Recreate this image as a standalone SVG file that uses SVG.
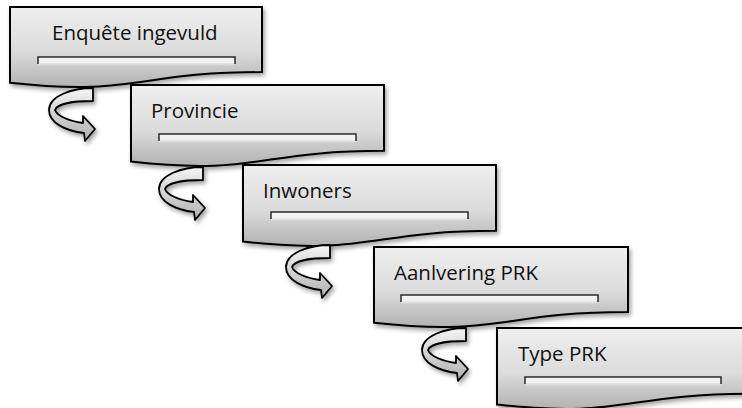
<svg xmlns="http://www.w3.org/2000/svg" width="742" height="408" viewBox="0 0 742 408">
<defs>
<linearGradient id="boxg" x1="0" y1="0" x2="0" y2="1">
<stop offset="0" stop-color="#efefef"/>
<stop offset="0.55" stop-color="#dcdcdc"/>
<stop offset="1" stop-color="#b2b2b2"/>
</linearGradient>
<linearGradient id="arrg" x1="0" y1="0" x2="0" y2="1">
<stop offset="0" stop-color="#f4f4f4"/>
<stop offset="1" stop-color="#b0b0b0"/>
</linearGradient>
<linearGradient id="barg" x1="0" y1="0" x2="0" y2="1">
<stop offset="0" stop-color="#f6f6f6"/>
<stop offset="0.6" stop-color="#f0f0f0"/>
<stop offset="1" stop-color="#f0f0f0" stop-opacity="0"/>
</linearGradient>
<filter id="sh" x="-10%" y="-10%" width="130%" height="140%">
<feDropShadow dx="2" dy="3" stdDeviation="2" flood-color="#000" flood-opacity="0.35"/>
</filter>
<path id="arrow" d="M93,88 C72,88 49,96 49,110 C49,123 66,131 84,133 L85,141 L95,129 L83,116 L83,123 C69,121 57,116 55,110 C57,104 72,101 93,101 Z"/>
</defs>
<style>
.box{fill:url(#boxg);stroke:#000;stroke-width:2;filter:url(#sh)}
.bar{fill:url(#barg)}
.barl{fill:none;stroke:#2a2a2a;stroke-width:1.5}
.lbl{font-family:"Open Sans","Noto Sans",sans-serif;font-size:20.5px;fill:#111}
.arr{fill:url(#arrg);stroke:#000;stroke-width:1.8;stroke-linejoin:round;filter:url(#sh)}
</style>
<g id="node1">
<path class="box" d="M10,7 H262 V72 C136,72 136,96.6 10,82.7 Z"/>
<rect class="bar" x="38" y="57" width="197" height="9"/>
<path class="barl" d="M38,64 V57 H235 V64"/>
<text class="lbl" x="52" y="40">Enquête ingevuld</text>
</g>
<g id="node2">
<path class="box" d="M131,85 H384 V150.8 C257.5,150.8 257.5,175.8 131,161.6 Z"/>
<rect class="bar" x="159" y="134" width="197" height="9"/>
<path class="barl" d="M159,141 V134 H356 V141"/>
<text class="lbl" x="151" y="118">Provincie</text>
</g>
<g id="node3">
<path class="box" d="M243,165 H496 V230.8 C369.5,230.8 369.5,255.8 243,241.6 Z"/>
<rect class="bar" x="271" y="212" width="197" height="9"/>
<path class="barl" d="M271,219 V212 H468 V219"/>
<text class="lbl" x="263" y="198">Inwoners</text>
</g>
<g id="node4">
<path class="box" d="M374,247 H628 V312 C501,312 501,336.7 374,322.7 Z"/>
<rect class="bar" x="401" y="295" width="197" height="9"/>
<path class="barl" d="M401,302 V295 H598 V302"/>
<text class="lbl" x="394" y="280">Aanlvering PRK</text>
</g>
<g id="node5">
<path class="box" d="M497,328 H750 V393.8 C623.5,393.8 623.5,418.8 497,404.6 Z"/>
<rect class="bar" x="525" y="377" width="196" height="9"/>
<path class="barl" d="M525,384 V377 H721 V384"/>
<text class="lbl" x="518" y="361">Type PRK</text>
</g>
<g id="connectors">
<use href="#arrow" class="arr"/>
<use href="#arrow" class="arr" transform="translate(110,79)"/>
<use href="#arrow" class="arr" transform="translate(237,157)"/>
<use href="#arrow" class="arr" transform="translate(373,240)"/>
</g>
</svg>
